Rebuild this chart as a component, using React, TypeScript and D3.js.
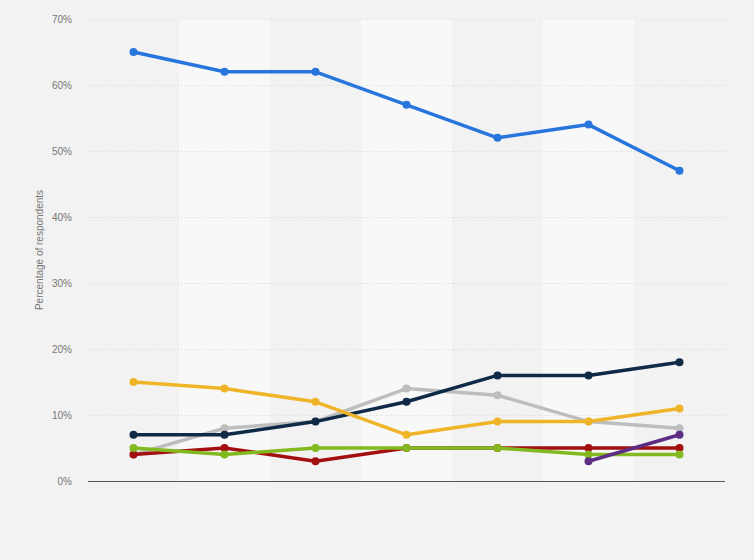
import { useEffect, useRef } from "react";
import * as d3 from "d3";

const categories = ["1", "2", "3", "4", "5", "6", "7"];
const yTicks = [0, 10, 20, 30, 40, 50, 60, 70];

const blueValues = [65, 62, 62, 57, 52, 54, 47];
const grayValues = [4, 8, 9, 14, 13, 9, 8];
const navyValues = [7, 7, 9, 12, 16, 16, 18];
const redValues = [4, 5, 3, 5, 5, 5, 5];
const greenValues = [5, 4, 5, 5, 5, 4, 4];
const yellowValues = [15, 14, 12, 7, 9, 9, 11];
const purpleValues: (number | null)[] = [null, null, null, null, null, 3, 7];

const seriesList = [
  { name: "blue", color: "#2876dd", values: blueValues },
  { name: "gray", color: "#bdbdbd", values: grayValues },
  { name: "navy", color: "#0f2a47", values: navyValues },
  { name: "red", color: "#a30f0f", values: redValues },
  { name: "green", color: "#82b920", values: greenValues },
  { name: "yellow", color: "#f0b429", values: yellowValues },
  { name: "purple", color: "#5c2d82", values: purpleValues },
];

const W = 754;
const H = 560;

export default function App() {
  const svgRef = useRef<SVGSVGElement | null>(null);

  useEffect(() => {
    document.body.style.margin = "0";
    const svg = svgRef.current;
    if (!svg) return;
    svg.innerHTML = "";
    const root = d3.select(svg);

    const left = 88;
    const right = 725;
    const top = 19;
    const bottom = 481;

    const x = d3.scaleBand().domain(categories).range([left, right]).padding(0);
    const y = d3.scaleLinear().domain([0, 70]).range([bottom, top]);

    root.append("rect").attr("width", W).attr("height", H).attr("fill", "#f2f2f2");

    // alternating column shading
    root
      .append("g")
      .selectAll("rect")
      .data(categories)
      .join("rect")
      .attr("x", (d) => x(d)!)
      .attr("y", top)
      .attr("width", x.bandwidth())
      .attr("height", bottom - top)
      .attr("fill", (_, i) => (i % 2 === 1 ? "#f8f8f8" : "#f2f2f2"));

    // gridlines
    root
      .append("g")
      .selectAll("line")
      .data(yTicks.filter((t) => t > 0))
      .join("line")
      .attr("x1", left)
      .attr("x2", right)
      .attr("y1", (d) => y(d) + 0.5)
      .attr("y2", (d) => y(d) + 0.5)
      .attr("stroke", "#d9d9d9")
      .attr("stroke-width", 1)
      .attr("stroke-dasharray", "1,2");

    // y tick labels
    root
      .append("g")
      .selectAll("text")
      .data(yTicks)
      .join("text")
      .attr("x", 72)
      .attr("y", (d) => y(d))
      .attr("dy", "0.35em")
      .attr("text-anchor", "end")
      .attr("font-family", "Liberation Sans, Arial, sans-serif")
      .attr("font-size", 10)
      .attr("fill", "#777")
      .text((d) => `${d}%`);

    root
      .append("text")
      .attr("transform", `translate(43,250) rotate(-90)`)
      .attr("text-anchor", "middle")
      .attr("font-family", "Liberation Sans, Arial, sans-serif")
      .attr("font-size", 10)
      .attr("fill", "#777")
      .text("Percentage of respondents");

    // baseline
    root
      .append("line")
      .attr("x1", left)
      .attr("x2", right)
      .attr("y1", bottom + 0.5)
      .attr("y2", bottom + 0.5)
      .attr("stroke", "#555")
      .attr("stroke-width", 1);

    const cx = (i: number) => x(categories[i])! + x.bandwidth() / 2;
    const line = d3
      .line<number | null>()
      .defined((d) => d != null)
      .x((_, i) => cx(i))
      .y((d) => y(d as number));

    seriesList.forEach((s) => {
      const g = root.append("g");
      g.append("path")
        .attr("d", line(s.values)!)
        .attr("fill", "none")
        .attr("stroke", s.color)
        .attr("stroke-width", 3.5)
        .attr("stroke-linejoin", "round");
      g.selectAll("circle")
        .data(s.values.map((v, i) => ({ v, i })).filter((d) => d.v != null))
        .join("circle")
        .attr("cx", (d) => cx(d.i))
        .attr("cy", (d) => y(d.v as number))
        .attr("r", 4)
        .attr("fill", s.color);
    });
  }, []);

  return <svg ref={svgRef} width={W} height={H} style={{ display: "block" }} />;
}
